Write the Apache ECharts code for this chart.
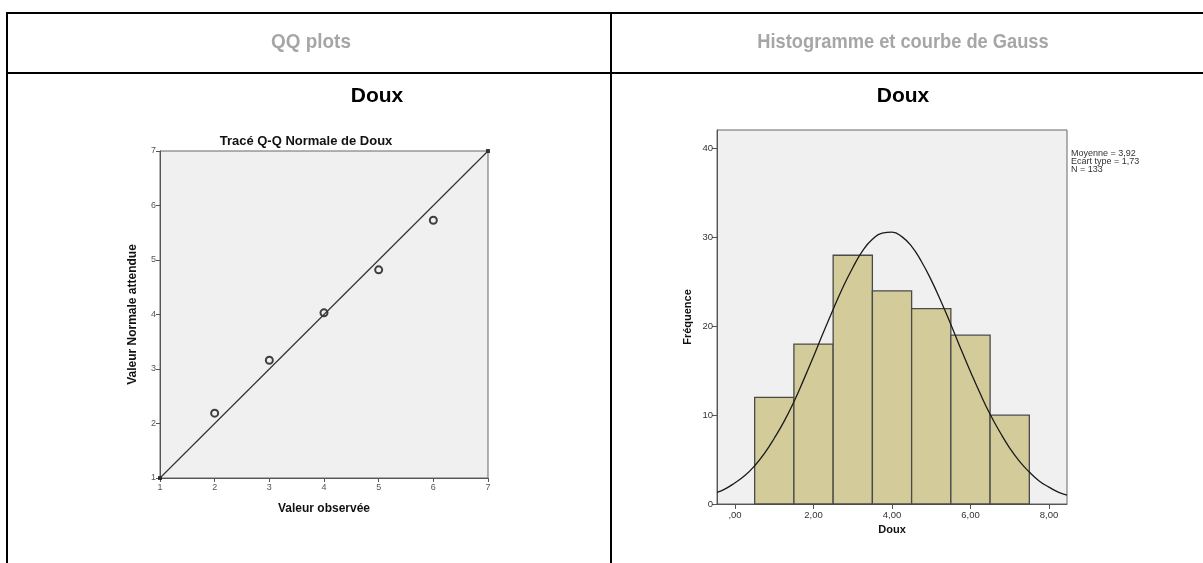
<!DOCTYPE html>
<html>
<head>
<meta charset="utf-8">
<style>
  html, body { margin: 0; padding: 0; background: #fff; }
  #main { width: 1203px; height: 563px; }
</style>
<script src="https://cdn.jsdelivr.net/npm/echarts@6/dist/echarts.min.js"></script>
</head>
<body>
<div id="main"></div>
<script>
// QQ plot data
const qqObserved = [1, 2, 3, 4, 5, 6, 7]
const qqExpected = [1, 2.19, 3.16, 4.03, 4.82, 5.73, 7]
const qqTicks = [1, 2, 3, 4, 5, 6, 7]
const qqLine = [[1, 1], [7, 7]]

// histogram data
const binStart = [0.5, 1.5, 2.5, 3.5, 4.5, 5.5, 6.5]
const binEnd = [1.5, 2.5, 3.5, 4.5, 5.5, 6.5, 7.5]
const binCounts = [12, 18, 28, 24, 22, 19, 10]

// gauss curve
const curveX = [-0.46, -0.25, 0, 0.25, 0.5, 0.75, 1, 1.25, 1.5, 1.75, 2, 2.25, 2.5, 2.75, 3, 3.25, 3.5, 3.75,
  4, 4.25, 4.5, 4.75, 5, 5.25, 5.5, 5.75, 6, 6.25, 6.5, 6.75, 7, 7.25, 7.5, 7.75, 8, 8.25, 8.46]
const curveY = [1.3, 1.7, 2.4, 3.2, 4.3, 5.7, 7.4, 9.3, 11.5, 14.0, 16.6, 19.3, 21.9, 24.4, 26.6, 28.5, 29.8, 30.5,
  30.6, 30.1, 29.0, 27.3, 25.2, 22.8, 20.2, 17.5, 14.9, 12.4, 10.1, 8.1, 6.3, 4.8, 3.6, 2.6, 1.9, 1.3, 1.0]

const histXTicks = [0, 2, 4, 6, 8]
const histXLabels = [',00', '2,00', '4,00', '6,00', '8,00']
const histYTicks = [0, 10, 20, 30, 40]
const statsLines = ['Moyenne = 3,92', 'Ecart type = 1,73', 'N = 133']

const headerLeft = 'QQ plots'
const headerRight = 'Histogramme et courbe de Gauss'
const varName = 'Doux'

const chart = echarts.init(document.getElementById('main'), null, { renderer: 'canvas' })

const font = '"Liberation Sans", Arial, sans-serif'
const lineStyle = { stroke: '#000', lineWidth: 2 }

// points sitting on the plot corners are clipped to a small dark blob in the original
const qqPoints = qqObserved.map((x, i) => {
  const corner = x === qqTicks[0] || x === qqTicks[qqTicks.length - 1]
  return corner
    ? { value: [x, qqExpected[i]], symbol: 'rect', symbolSize: 4, itemStyle: { color: '#111', borderWidth: 0 } }
    : { value: [x, qqExpected[i]] }
})

chart.setOption({
  animation: false,
  textStyle: { fontFamily: font },
  graphic: [
    // table lines
    { type: 'line', shape: { x1: 6, y1: 13, x2: 1203, y2: 13 }, style: lineStyle },
    { type: 'line', shape: { x1: 6, y1: 73, x2: 1203, y2: 73 }, style: lineStyle },
    { type: 'line', shape: { x1: 7, y1: 12, x2: 7, y2: 563 }, style: lineStyle },
    { type: 'line', shape: { x1: 611, y1: 12, x2: 611, y2: 563 }, style: lineStyle },
    // headers
    { type: 'text', x: 311, y: 42, scaleX: 0.9, style: { text: headerLeft, font: 'bold 21px ' + font, fill: '#a6a6a6', align: 'center', verticalAlign: 'middle' } },
    { type: 'text', x: 903, y: 42, scaleX: 0.87, style: { text: headerRight, font: 'bold 21px ' + font, fill: '#a6a6a6', align: 'center', verticalAlign: 'middle' } },
    { type: 'text', x: 377, y: 96, style: { text: varName, font: 'bold 21px ' + font, fill: '#000', align: 'center', verticalAlign: 'middle' } },
    { type: 'text', x: 903, y: 96, style: { text: varName, font: 'bold 21px ' + font, fill: '#000', align: 'center', verticalAlign: 'middle' } },
    // chart title
    { type: 'text', x: 306, y: 141, style: { text: 'Tracé Q-Q Normale de Doux', font: 'bold 13px ' + font, fill: '#111', align: 'center', verticalAlign: 'middle' } },
    // stats box
    { type: 'text', x: 1071, y: 150, style: { text: statsLines.join('\n'), font: '9px ' + font, lineHeight: 8, fill: '#333', align: 'left', verticalAlign: 'top' } }
  ],
  grid: [
    { left: 160, top: 151, width: 328, height: 327, show: true, backgroundColor: '#f0f0f0', borderColor: '#666', borderWidth: 1 },
    { left: 717, top: 130, width: 350, height: 374, show: true, backgroundColor: '#f0f0f0', borderColor: '#666', borderWidth: 1 }
  ],
  xAxis: [
    {
      gridIndex: 0, type: 'value', min: 1, max: 7, interval: 1,
      name: 'Valeur observée', nameLocation: 'middle', nameGap: 25,
      nameTextStyle: { fontSize: 12, fontWeight: 'bold', color: '#111' },
      axisLine: { onZero: false, lineStyle: { color: '#555' } },
      axisTick: { length: 4, lineStyle: { color: '#555' } },
      axisLabel: { fontSize: 9, color: '#555', margin: 5 },
      splitLine: { show: false }
    },
    {
      gridIndex: 1, type: 'value', min: -0.46, max: 8.46,
      name: varName, nameLocation: 'middle', nameGap: 16,
      nameTextStyle: { fontSize: 11, fontWeight: 'bold', color: '#111' },
      axisLine: { onZero: false, lineStyle: { color: '#555' } },
      axisTick: { length: 5, customValues: histXTicks, lineStyle: { color: '#555' } },
      axisLabel: {
        fontSize: 9.5, color: '#333', margin: 6, customValues: histXTicks,
        formatter: v => histXLabels[histXTicks.indexOf(v)]
      },
      splitLine: { show: false }
    }
  ],
  yAxis: [
    {
      gridIndex: 0, type: 'value', min: 1, max: 7, interval: 1,
      name: 'Valeur Normale attendue', nameLocation: 'middle', nameGap: 21,
      nameTextStyle: { fontSize: 12, fontWeight: 'bold', color: '#111' },
      axisLine: { show: true, onZero: false, lineStyle: { color: '#555' } },
      axisTick: { show: true, length: 4, lineStyle: { color: '#555' } },
      axisLabel: { fontSize: 9, color: '#555', margin: 4 },
      splitLine: { show: false }
    },
    {
      gridIndex: 1, type: 'value', min: 0, max: 42.1,
      name: 'Fréquence', nameLocation: 'middle', nameGap: 24,
      nameTextStyle: { fontSize: 11, fontWeight: 'bold', color: '#111' },
      axisLine: { show: true, onZero: false, lineStyle: { color: '#555' } },
      axisTick: { show: true, length: 5, customValues: histYTicks, lineStyle: { color: '#555' } },
      axisLabel: { fontSize: 9.5, color: '#333', margin: 4, customValues: histYTicks },
      splitLine: { show: false }
    }
  ],
  series: [
    {
      type: 'line', xAxisIndex: 0, yAxisIndex: 0,
      data: qqLine, showSymbol: false, symbol: 'none',
      lineStyle: { color: '#333', width: 1.2 }
    },
    {
      type: 'scatter', xAxisIndex: 0, yAxisIndex: 0,
      data: qqPoints,
      symbol: 'circle', symbolSize: 7,
      itemStyle: { color: 'rgba(0,0,0,0)', borderColor: '#111', borderWidth: 2 }
    },
    {
      type: 'custom', xAxisIndex: 1, yAxisIndex: 1,
      data: binCounts.map((c, i) => [binStart[i], binEnd[i], c]),
      encode: { x: [0, 1], y: 2 },
      renderItem: (params, api) => {
        const p0 = api.coord([api.value(0), api.value(2)])
        const p1 = api.coord([api.value(1), 0])
        return {
          type: 'rect',
          shape: { x: p0[0], y: p0[1], width: p1[0] - p0[0], height: p1[1] - p0[1] },
          style: { fill: '#d3cc9a', stroke: '#4a4a4a', lineWidth: 1.3 }
        }
      }
    },
    {
      type: 'line', xAxisIndex: 1, yAxisIndex: 1,
      data: curveX.map((x, i) => [x, curveY[i]]),
      smooth: true, showSymbol: false, symbol: 'none',
      lineStyle: { color: '#1a1a1a', width: 1.3 }
    }
  ]
})
</script>
</body>
</html>
